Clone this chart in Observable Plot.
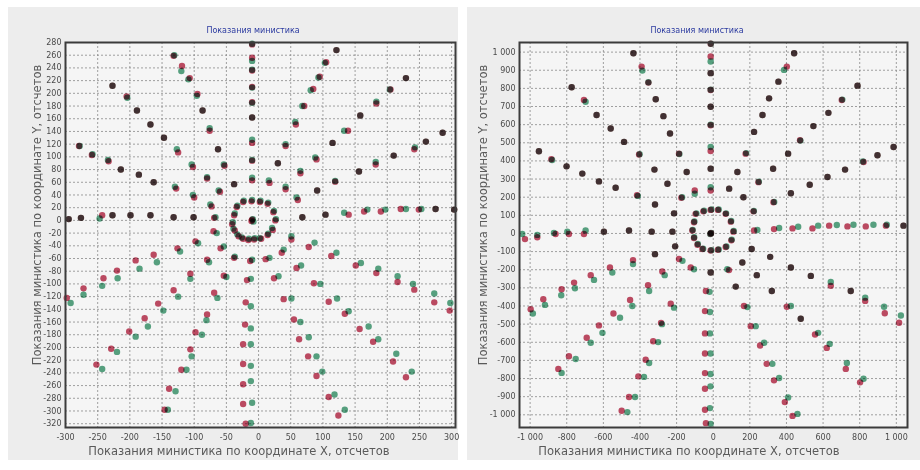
<!DOCTYPE html>
<html>
<head>
<meta charset="utf-8">
<script src="https://cdn.jsdelivr.net/npm/d3@7"></script>
<script src="https://cdn.jsdelivr.net/npm/@observablehq/plot@0.6"></script>
<style>
  body { margin: 0; background: #ffffff; }
  #wrap { position: relative; width: 920px; height: 470px; overflow: hidden; font-family: "DejaVu Sans", sans-serif; }
  .panel { position: absolute; background: #ededed; }
  .plot { position: absolute; top: 0; }
  .title { position: absolute; top: 26px; font-size: 8px; color: #2b3aa0; white-space: nowrap; transform: translateX(-50%); }
  .xlab { position: absolute; top: 444px; font-size: 11.5px; color: #5a5a5a; white-space: nowrap; transform: translateX(-50%); }
  .ylab { position: absolute; font-size: 11.5px; color: #5a5a5a; white-space: nowrap; transform: translate(-50%, -50%) rotate(-90deg); }
</style>
</head>
<body>
<div id="wrap">
  <div class="panel" style="left:8px;top:7px;width:450px;height:453px"></div>
  <div class="panel" style="left:467px;top:7px;width:453px;height:453px"></div>
  <div id="left" class="plot" style="left:0px"></div>
  <div id="right" class="plot" style="left:460px"></div>
  <div class="title" style="left:253px">Показания министика</div>
  <div class="title" style="left:697px">Показания министика</div>
  <div class="xlab" style="left:239px">Показания министика по координате X, отсчетов</div>
  <div class="xlab" style="left:689px">Показания министика по координате X, отсчетов</div>
  <div class="ylab" style="left:37px;top:215px">Показания министика по координате Y, отсчетов</div>
  <div class="ylab" style="left:483px;top:215px">Показания министика по координате Y, отсчетов</div>
</div>
<script>
// ---- tick labels ----
const leftXTicks = [-300,-250,-200,-150,-100,-50,0,50,100,150,200,250,300];
const leftYTicks = [-320,-300,-280,-260,-240,-220,-200,-180,-160,-140,-120,-100,-80,-60,-40,-20,0,20,40,60,80,100,120,140,160,180,200,220,240,260,280];
const rightXTicks = [-1000,-800,-600,-400,-200,0,200,400,600,800,1000];
const rightYTicks = [-1000,-900,-800,-700,-600,-500,-400,-300,-200,-100,0,100,200,300,400,500,600,700,800,900,1000];

// ---- left panel: [xRed, yRed, xGreen, yGreen] ----
const leftPairs = [
[-10,277,-10,278],[-132,259,-131,260],[121,268,121,268],[-10,256,-10,251],[-119,243,-120,235],
[105,249,103,248],[-10,236,-10,237],[-107,224,-109,222],[95,226,93,225],[-227,212,-227,212],
[229,224,229,224],[-10,210,-10,209],[-95,199,-96,196],[85,207,81,205],[205,206,204,206],
[-205,195,-204,193],[-10,186,-10,185],[71,180,68,180],[183,184,183,187],[-87,173,-87,173],
[-189,173,-189,173],[-10,162,-10,162],[158,165,158,165],[58,151,57,155],[-168,151,-168,151],
[-76,141,-76,145],[139,141,133,141],[286,138,286,138],[-279,117,-278,117],[-147,130,-147,130],
[-10,122,-10,127],[115,122,115,122],[260,124,260,124],[42,117,42,120],[242,112,243,115],
[-63,112,-63,112],[-259,103,-258,104],[-125,107,-127,112],[210,102,210,102],[-10,94,-10,95],
[90,96,88,99],[-233,93,-234,95],[30,90,30,90],[182,88,182,92],[-102,84,-104,88],
[-53,86,-54,88],[-214,80,-214,80],[65,74,65,78],[156,77,156,77],[-186,72,-186,72],
[-80,66,-80,68],[-10,63,-10,67],[17,59,16,63],[119,61,119,62],[-163,60,-163,60],
[-60,45,-62,47],[-38,57,-38,57],[42,49,42,53],[91,47,91,47],[-128,50,-130,53],
[-100,36,-102,40],[-73,22,-75,25],[61,32,59,36],[140,9,133,12],[104,9,104,9],
[68,5,68,5],[164,14,169,17],[190,14,197,17],[221,18,229,18],[249,17,253,18],
[275,18,275,18],[304,17,304,17],[-295,2,-295,2],[-276,4,-276,4],[-243,8,-247,3],
[-227,8,-227,8],[-199,8,-199,8],[-168,8,-168,8],[-132,5,-132,5],[-101,5,-101,5],
[-69,4,-67,5],
[-70,-17,-65,-20],[-98,-33,-94,-36],[-59,-44,-54,-41],[-126,-44,-122,-49],[-38,-59,-37,-57],
[-13,-64,-10,-62],[-80,-62,-77,-66],[-163,-54,-158,-66],[-191,-63,-185,-76],[-220,-79,-219,-91],
[-241,-91,-243,-103],[-272,-107,-272,-117],[-298,-122,-292,-130],[-106,-84,-106,-92],[-54,-87,-50,-89],
[-18,-94,-12,-92],[-132,-110,-125,-120],[-69,-114,-64,-122],[-20,-129,-12,-135],[-156,-131,-148,-142],
[-80,-148,-81,-157],[-177,-154,-172,-167],[-21,-164,-12,-170],[-201,-175,-191,-183],[-98,-176,-88,-180],
[-24,-195,-12,-195],[-229,-202,-220,-207],[-106,-203,-104,-214],[-24,-226,-12,-229],[-252,-227,-243,-234],
[-120,-235,-112,-235],[-24,-258,-12,-253],[-139,-265,-129,-269],[-24,-289,-10,-287],[-146,-298,-141,-298],
[-20,-320,-12,-319],
[51,-30,51,-25],[11,-61,17,-59],[36,-51,39,-46],[78,-42,87,-35],[59,-75,66,-71],
[24,-91,31,-88],[113,-56,121,-51],[86,-99,96,-100],[151,-71,159,-67],[39,-124,51,-123],
[109,-128,122,-123],[183,-83,186,-76],[216,-97,216,-88],[242,-109,240,-100],[273,-129,273,-115],
[297,-142,298,-130],[134,-147,140,-143],[55,-156,65,-160],[157,-171,171,-167],[63,-187,78,-184],
[178,-191,186,-187],[77,-214,90,-214],[209,-222,214,-210],[90,-245,99,-238],[229,-247,238,-238],
[109,-278,118,-274],[124,-307,134,-298]
];
const leftRing = [
[-38,8,-37,11],[-41,-6,-40,-3],[-37,-16,-39,-13],[-31,-25,-33,-22],[-24,-29,-26,-27],
[-16,-31,-15,-29],[-7,-30,-6,-28],[4,-29,2,-28],[14,-23,15,-21],[22,-15,21,-12],
[26,0,27,2],[23,13,24,15],[14,26,15,28],[2,29,3,31],[-11,30,-10,32],
[-24,29,-23,31],[-34,21,-33,23],[-11,-1,-9,2],[-10,1,-8,-2]
];

// ---- right panel: [xRed, yRed, xGreen, yGreen] ----
const rightPairs = [
[-14,1046,-13,1046],[-14,976,-14,948],[-14,884,-14,884],[-14,791,-14,793],[-14,699,-14,699],
[-14,597,-14,600],[-14,455,-14,477],[-14,357,-14,357],[-14,237,-14,255],
[-436,994,-436,994],[-391,920,-387,898],[-354,832,-354,834],[-314,740,-314,740],[-272,647,-272,647],
[-236,551,-236,551],[-187,440,-185,438],[-145,339,-145,339],[-101,237,-101,219],
[-773,806,-773,806],[-706,736,-697,726],[-637,653,-637,653],[-560,579,-560,579],[-487,505,-487,505],
[-405,435,-402,437],[-321,352,-321,352],[-250,274,-250,274],[-174,197,-170,200],
[-952,453,-952,453],[-884,409,-880,405],[-801,370,-801,370],[-715,330,-715,330],[-624,287,-624,287],
[-533,252,-533,252],[-416,211,-412,207],[-318,160,-318,160],[-214,111,-214,111],
[-1028,-31,-1043,-3],[-961,-21,-961,-8],[-861,-3,-870,3],[-788,-3,-797,10],[-706,-3,-697,16],
[-597,10,-597,10],[-460,16,-460,16],[-336,10,-336,10],[-223,10,-223,10],
[223,16,241,19],[332,24,360,30],[433,28,464,37],[542,28,573,43],[633,43,675,47],
[733,39,766,48],[833,39,875,48],[943,43,948,48],[1039,43,1039,43],
[442,994,442,994],[402,920,387,902],[356,837,356,837],[305,745,305,745],[269,653,269,653],
[223,560,223,560],[177,440,180,443],[132,339,132,339],[87,247,87,247],
[788,815,788,815],[702,736,705,738],[629,665,629,665],[547,592,547,592],[474,514,476,512],
[409,440,409,440],[327,357,327,357],[247,283,249,285],[165,200,165,200],
[985,477,985,477],[897,431,897,431],[821,394,818,397],[720,352,720,352],[624,311,624,311],
[527,269,527,269],[424,222,424,222],[329,172,333,174],[220,122,222,124],
[-997,-418,-985,-441],[-928,-363,-919,-394],[-828,-308,-830,-341],[-760,-271,-755,-302],[-669,-230,-651,-256],
[-564,-188,-551,-215],[-438,-147,-438,-169],[-318,-114,-318,-114],[-208,-71,-208,-71],
[-846,-747,-828,-769],[-788,-677,-751,-692],[-691,-575,-669,-603],[-624,-507,-605,-548],[-545,-441,-509,-465],
[-454,-367,-442,-400],[-356,-285,-350,-317],[-278,-210,-265,-230],[-187,-141,-168,-151],
[-500,-978,-469,-985],[-460,-902,-427,-902],[-409,-788,-378,-791],[-369,-696,-350,-714],[-328,-594,-301,-599],
[-285,-493,-280,-500],[-232,-387,-214,-409],[-123,-188,-105,-197],
[-14,-215,-14,-215],[-40,-317,-20,-322],[-45,-428,-18,-433],[-45,-551,-18,-551],[-45,-662,-15,-662],
[-45,-770,-15,-775],[-45,-856,-15,-843],[-45,-972,-18,-963],[-40,-1046,-14,-1050],
[210,-86,210,-86],[311,-129,311,-129],[159,-160,159,-160],[86,-202,77,-197],[424,-188,424,-188],
[238,-230,238,-230],[533,-234,533,-234],[642,-289,642,-267],[123,-293,123,-293],[320,-317,320,-317],
[751,-317,751,-317],[830,-372,830,-354],[168,-400,187,-406],[402,-404,424,-400],[937,-440,933,-404],
[1015,-492,1025,-452],[478,-470,478,-470],[205,-511,232,-511],[556,-557,573,-548],[256,-618,278,-603],
[620,-631,636,-609],[724,-747,730,-714],[292,-719,323,-719],[332,-810,360,-797],[802,-821,821,-801],
[391,-930,409,-904],[433,-1006,460,-995]
];
const rightRing = [
[-54,122,-50,125],[-96,108,-92,111],[-105,62,-103,66],[-114,16,-112,20],[-105,-25,-104,-21],
[-86,-62,-84,-58],[-59,-86,-55,-84],[-14,-94,-10,-92],[26,-90,30,-88],[68,-75,72,-72],
[99,-38,101,-34],[110,10,112,14],[96,65,98,69],[68,108,70,111],[26,130,30,132],
[-14,130,-10,132],[-15,-2,-12,3],[-12,2,-16,-3]
];

const RED = "#b3203f", GREEN = "#2f9064";
const hyph = s => s.replace(/\u2212/g, "-");
const fmtLeft = d => hyph(d3.format("d")(d));
const fmtRight = d => hyph(d3.format(",d")(d)).replace(/,/g, " ");

function panel({pairs, ring, xDomain, yDomain, xTicks, yTicks, fmt, mLeft, mRight}) {
  const all = pairs.concat(ring);
  const red = all.map(p => ({x: p[0], y: p[1]}));
  const green = all.map(p => ({x: p[2], y: p[3]}));
  return Plot.plot({
    width: 460, height: 470,
    marginLeft: mLeft, marginRight: mRight, marginTop: 42, marginBottom: 43,
    style: {background: "transparent", fontFamily: "DejaVu Sans, sans-serif", fontSize: "8px", color: "#4a4a4a", overflow: "visible"},
    x: {domain: xDomain, ticks: xTicks, tickFormat: fmt, tickSize: 0, tickPadding: 7, label: null},
    y: {domain: yDomain, ticks: yTicks, tickFormat: fmt, tickSize: 0, tickPadding: 4, label: null},
    marks: [
      Plot.frame({fill: "#f5f5f5", stroke: null}),
      Plot.gridX(xTicks, {stroke: "#8a8a8a", strokeOpacity: 0.8, strokeDasharray: "2,2"}),
      Plot.gridY(yTicks, {stroke: "#8a8a8a", strokeOpacity: 0.8, strokeDasharray: "2,2"}),
      Plot.dot(red, {x: "x", y: "y", r: 3.2, fill: RED, fillOpacity: 0.8, mixBlendMode: "multiply"}),
      Plot.dot(green, {x: "x", y: "y", r: 3.2, fill: GREEN, fillOpacity: 0.8, mixBlendMode: "multiply"}),
      Plot.frame({stroke: "#3c3c3c", strokeWidth: 2})
    ]
  });
}

document.getElementById("left").appendChild(panel({
  pairs: leftPairs, ring: leftRing, xDomain: [-300, 306], yDomain: [-326, 280],
  xTicks: leftXTicks, yTicks: leftYTicks, fmt: fmtLeft, mLeft: 65, mRight: 5
}));
document.getElementById("right").appendChild(panel({
  pairs: rightPairs, ring: rightRing, xDomain: [-1058, 1061], yDomain: [-1070, 1053],
  xTicks: rightXTicks, yTicks: rightYTicks, fmt: fmtRight, mLeft: 59, mRight: 13
}));
</script>
</body>
</html>
